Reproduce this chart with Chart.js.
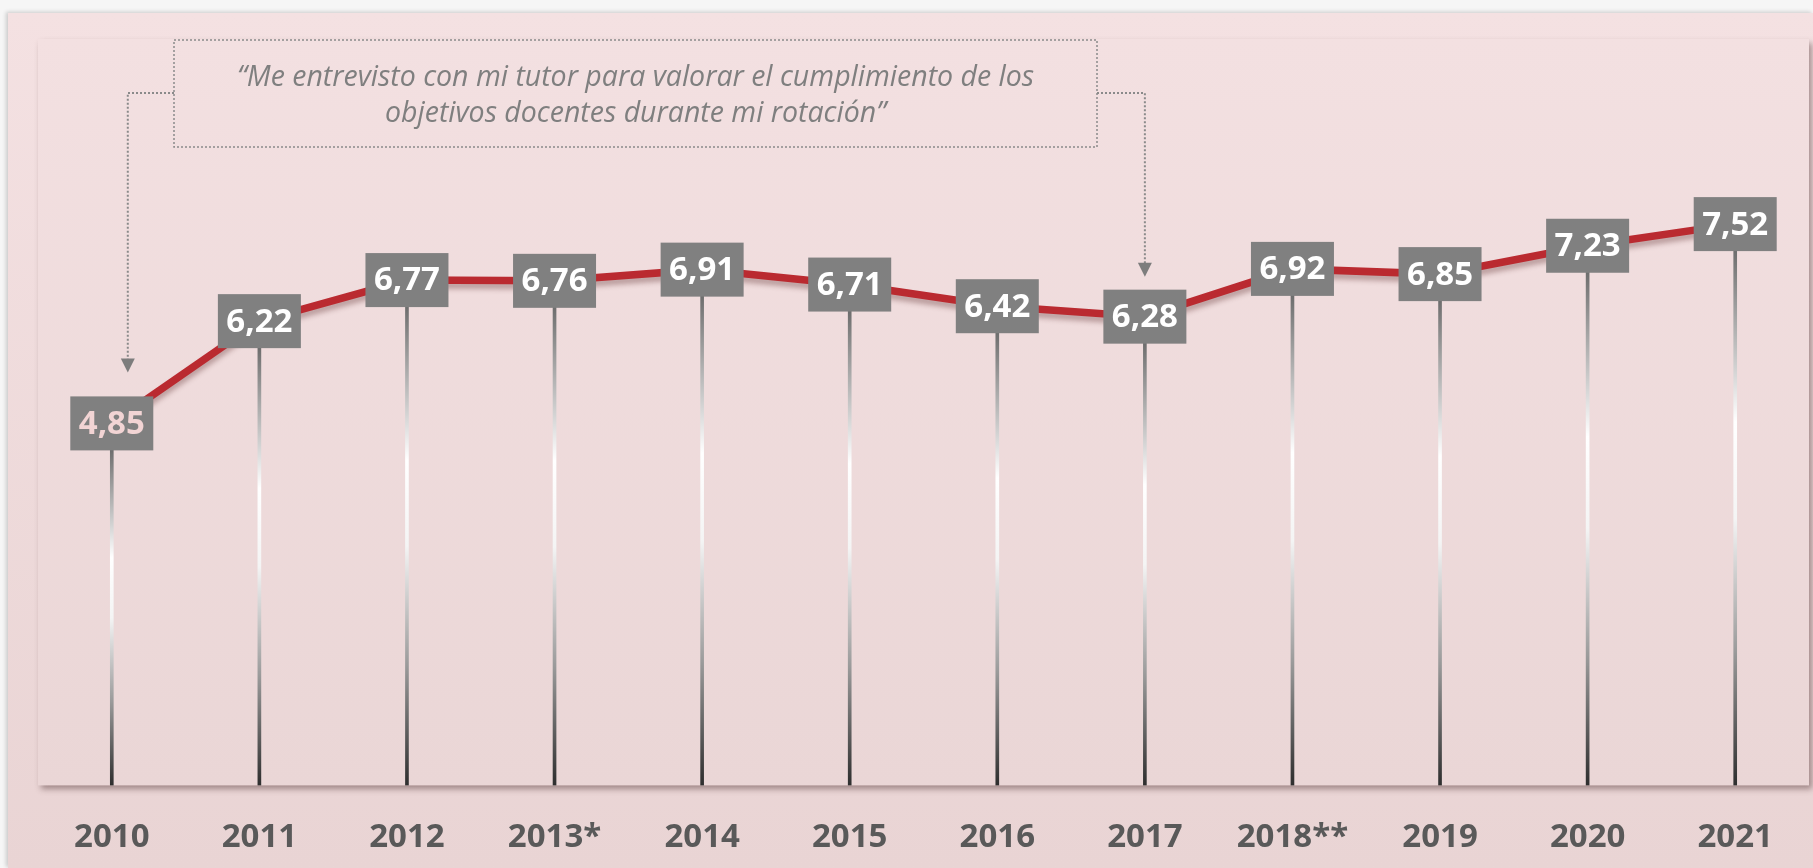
<!DOCTYPE html>
<html>
<head>
<meta charset="utf-8">
<script src="https://cdn.jsdelivr.net/npm/chart.js@4.4.1/dist/chart.umd.min.js"></script>
<style>
html, body { margin:0; padding:0; }
body { width:1813px; height:868px; background:#f6f6f6; overflow:hidden; position:relative; }
#panel {
  position:absolute; left:8px; top:13px; width:1805px; height:855px; overflow:hidden;
  background:linear-gradient(#f4e1e2, #e9d4d4);
  box-shadow:-2px -1px 4px rgba(0,0,0,0.18);
}
canvas { display:block; }
</style>
</head>
<body>
<div id="panel"><canvas id="chart" width="1805" height="880"></canvas></div>
<script>
const years = ["2010","2011","2012","2013*","2014","2015","2016","2017","2018**","2019","2020","2021"];
const scores = [4.85, 6.22, 6.77, 6.76, 6.91, 6.71, 6.42, 6.28, 6.92, 6.85, 7.23, 7.52];
const quoteLines = ["\u201cMe entrevisto con mi tutor para valorar el cumplimiento de los",
                    "objetivos docentes durante mi rotaci\u00f3n\u201d"];

const BOX_W = 83, BOX_H = 54;

// fondo del area de trazado con sombra
const plotBg = {
  id:"plotBg",
  beforeDraw(chart){
    const {ctx, chartArea:a} = chart;
    ctx.save();
    ctx.shadowColor = "rgba(70,40,40,0.45)";
    ctx.shadowBlur = 6;
    ctx.shadowOffsetX = 3;
    ctx.shadowOffsetY = 4;
    const g = ctx.createLinearGradient(0, a.top, 0, a.bottom);
    g.addColorStop(0, "#f3e0e1");
    g.addColorStop(1, "#ead6d6");
    ctx.fillStyle = g;
    ctx.fillRect(a.left, a.top, a.right - a.left, a.bottom - a.top);
    ctx.restore();
  }
};

// sombra de la linea roja
const lineShadow = {
  id:"lineShadow",
  beforeDatasetDraw(chart, args){
    if (args.index !== 1) return;
    const c = chart.ctx;
    c.save();
    c.shadowColor = "rgba(90,40,40,0.35)";
    c.shadowBlur = 5;
    c.shadowOffsetY = 5;
  },
  afterDatasetDraw(chart, args){
    if (args.index === 1) chart.ctx.restore();
  }
};

// cajas grises con el valor
const valueBoxes = {
  id:"valueBoxes",
  afterDatasetsDraw(chart){
    const ctx = chart.ctx;
    const pts = chart.getDatasetMeta(1).data;
    ctx.save();
    ctx.font = "bold 33px 'Open Sans'";
    ctx.textAlign = "center";
    ctx.textBaseline = "middle";
    pts.forEach((p, i) => {
      ctx.fillStyle = "#808080";
      ctx.fillRect(p.x - BOX_W/2, p.y - BOX_H/2, BOX_W, BOX_H);
      ctx.fillStyle = i === 0 ? "#f2d4d4" : "#ffffff";
      ctx.fillText(scores[i].toFixed(2).replace(".", ","), p.x, p.y + 1);
    });
    ctx.restore();
  }
};

// cita con flechas punteadas
const quoteNote = {
  id:"quoteNote",
  afterDraw(chart){
    const ctx = chart.ctx;
    const pts = chart.getDatasetMeta(1).data;
    const L = 166, R = 1089, T = 27, B = 134, armY = 80;
    ctx.save();
    ctx.strokeStyle = "#8a8a8a";
    ctx.lineWidth = 1.5;
    ctx.setLineDash([2, 2]);
    ctx.strokeRect(L, T, R - L, B - T);

    const arrows = [
      {x: pts[0].x + 16, from: L, tip: pts[0].y - BOX_H/2 - 24},
      {x: pts[7].x, from: R, tip: pts[7].y - BOX_H/2 - 13}
    ];
    ctx.lineWidth = 2;
    arrows.forEach(a => {
      ctx.beginPath();
      ctx.moveTo(a.from, armY);
      ctx.lineTo(a.x, armY);
      ctx.lineTo(a.x, a.tip - 12);
      ctx.stroke();
    });
    ctx.setLineDash([]);
    ctx.fillStyle = "#7d7d7d";
    arrows.forEach(a => {
      ctx.beginPath();
      ctx.moveTo(a.x - 7, a.tip - 14);
      ctx.lineTo(a.x + 7, a.tip - 14);
      ctx.lineTo(a.x, a.tip);
      ctx.closePath();
      ctx.fill();
    });

    ctx.fillStyle = "#7f7f7f";
    ctx.font = "italic 28.5px 'Open Sans'";
    ctx.textAlign = "center";
    ctx.textBaseline = "middle";
    ctx.fillText(quoteLines[0], (L + R) / 2, 65);
    ctx.fillText(quoteLines[1], (L + R) / 2, 101);
    ctx.restore();
  }
};

new Chart(document.getElementById("chart"), {
  data:{
    labels:years,
    datasets:[
      {
        type:"bar",
        data:scores,
        order:2,
        barThickness:3,
        backgroundColor:c => {
          const chart = c.chart;
          const a = chart.chartArea;
          if (!a) return "#888";
          const top = chart.scales.y.getPixelForValue(scores[c.dataIndex]) + BOX_H/2;
          const g = chart.ctx.createLinearGradient(0, top, 0, a.bottom);
          g.addColorStop(0, "#6e6e6e");
          g.addColorStop(0.32, "#ffffff");
          g.addColorStop(0.5, "#f4f4f4");
          g.addColorStop(0.75, "#9a9a9a");
          g.addColorStop(1, "#2e2e2e");
          return g;
        }
      },
      {
        type:"line",
        data:scores,
        order:1,
        borderColor:"#ba2a30",
        borderWidth:7.5,
        pointRadius:0,
        tension:0,
        fill:false
      }
    ]
  },
  options:{
    responsive:false,
    animation:false,
    layout:{padding:{left:30, right:4, top:26, bottom:4}},
    plugins:{legend:{display:false}, tooltip:{enabled:false}},
    scales:{
      x:{
        offset:true,
        grid:{display:false, drawTicks:false},
        border:{display:false},
        ticks:{
          padding:32,
          color:"#595959",
          font:{family:"'Open Sans'", size:33, weight:"bold"}
        }
      },
      y:{
        display:false,
        min:0,
        max:10
      }
    }
  },
  plugins:[plotBg, lineShadow, valueBoxes, quoteNote]
});
</script>
</body>
</html>
